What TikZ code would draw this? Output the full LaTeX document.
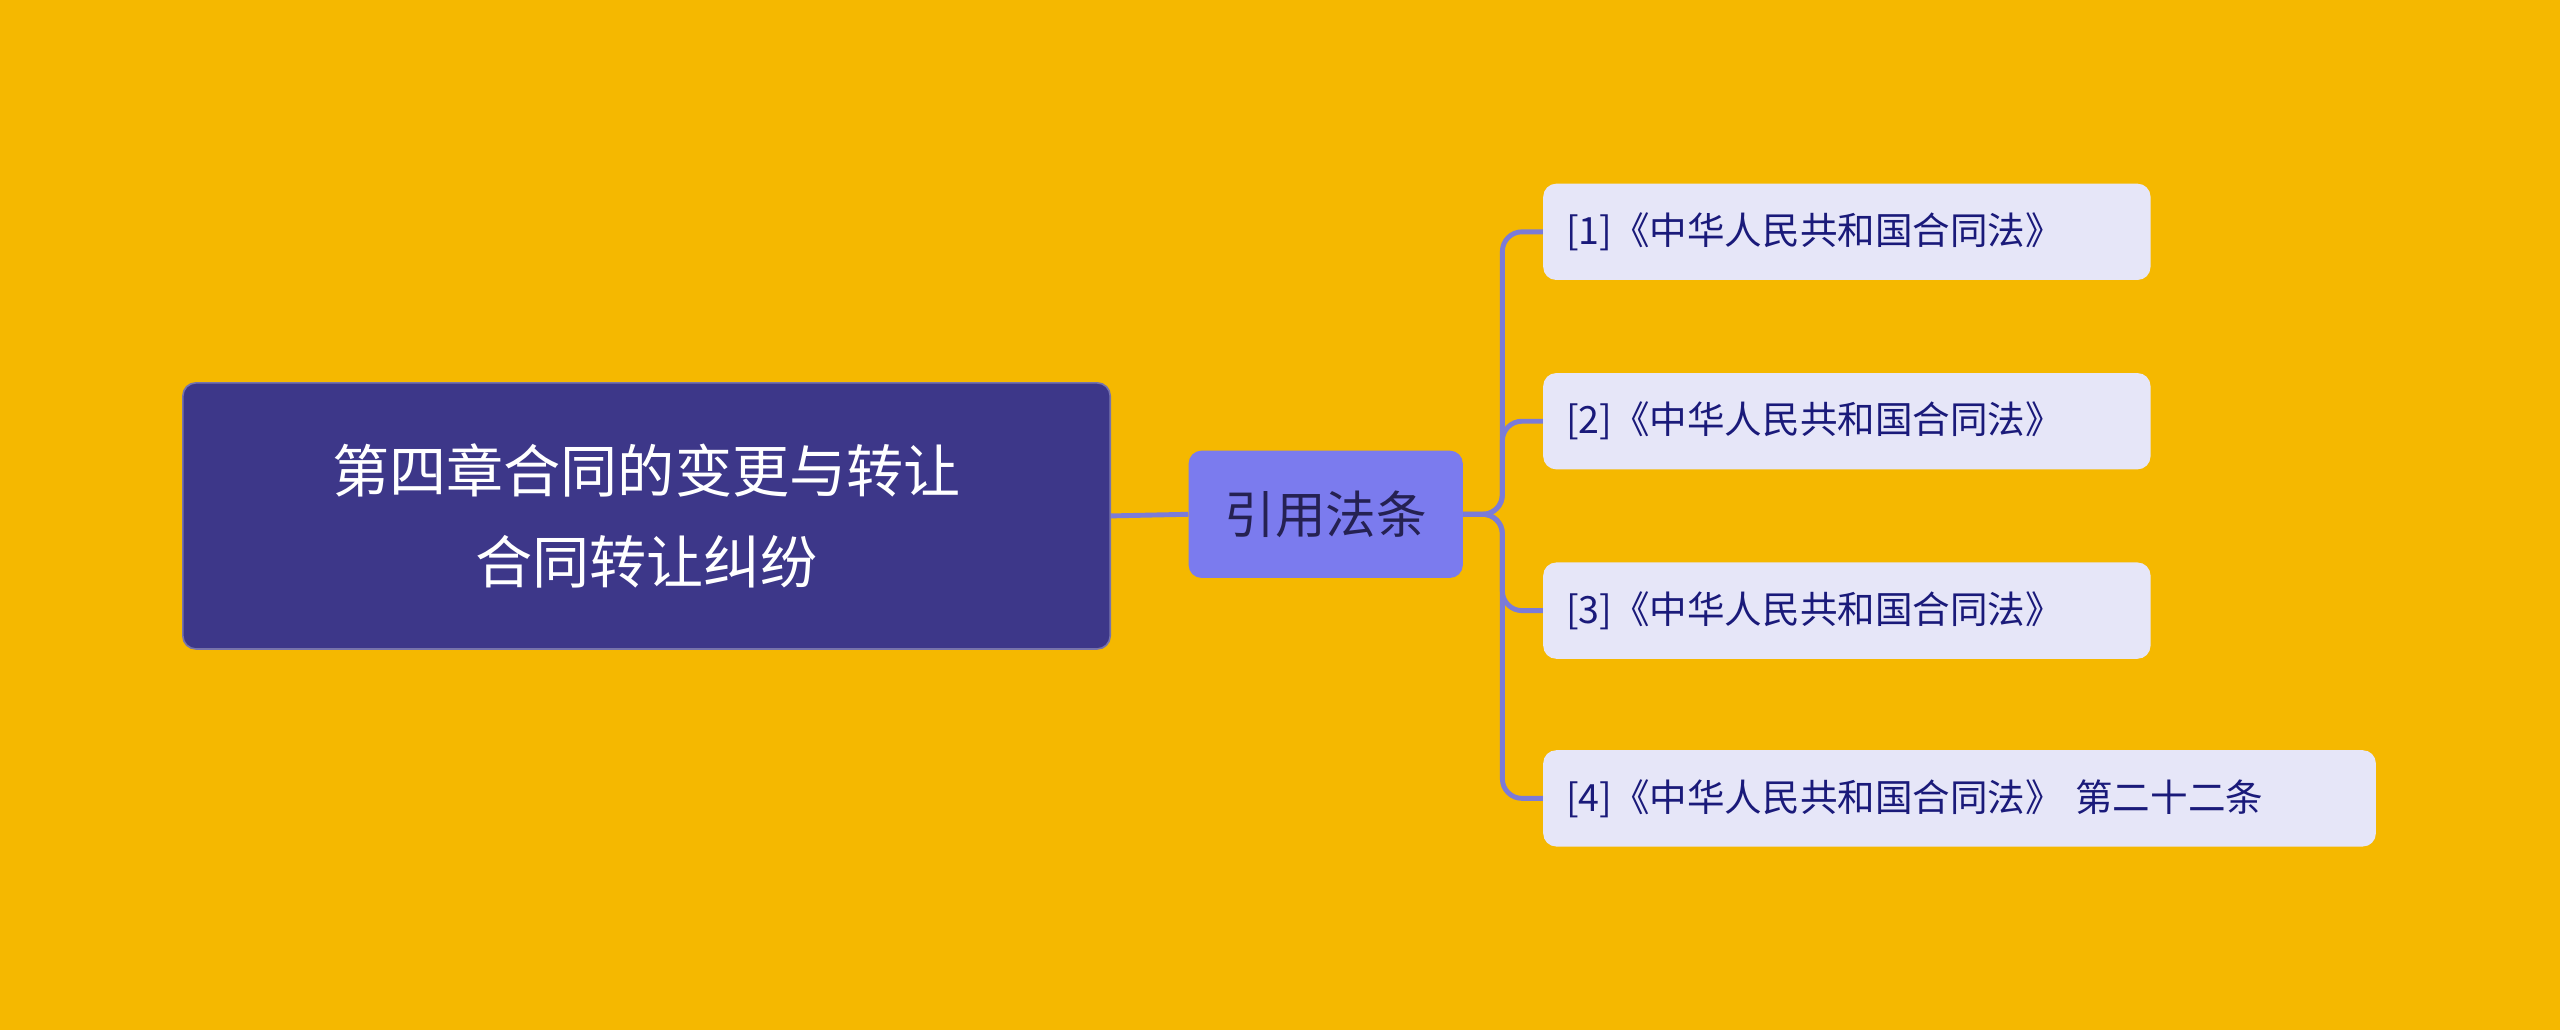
\documentclass[tikz,border=0pt]{standalone}
\usepackage{fontspec}
\setmainfont{Noto Sans CJK SC}
\begin{document}
\begin{tikzpicture}[x=1pt,y=-1pt,
  conn/.style={draw=lineC,line width=3pt,rounded corners=12pt},
  leaf/.style={fill=leafC,rounded corners=8pt,anchor=west,minimum height=59pt,inner xsep=14pt,align=left,text=leafT,font=\fontsize{23}{28}\selectfont}]
\definecolor{bgC}{HTML}{F5B800}
\definecolor{rootC}{HTML}{3D3789}
\definecolor{midC}{HTML}{7B7BEE}
\definecolor{leafC}{HTML}{E6E6F8}
\definecolor{leafT}{HTML}{1A1A7A}
\definecolor{lineC}{HTML}{7B7BD8}
\fill[bgC] (0,0) rectangle (1568,631);
\useasboundingbox (0,0) rectangle (1568,631);
\node[fill=rootC,draw=rootC!70!white,line width=1pt,rounded corners=8pt,minimum width=568pt,minimum height=163pt,text=white,align=center,font=\fontsize{35}{56}\selectfont] (root) at (396,316) {第四章合同的变更与转让\\合同转让纠纷};
\node[fill=midC,rounded corners=8pt,minimum width=168pt,minimum height=78pt,text=rootC!60!black,font=\fontsize{31}{36}\selectfont] (mid) at (812,315) {引用法条};
\node[leaf,text width=344pt] (l1) at (945,142) {[1]《中华人民共和国合同法》};
\node[leaf,text width=344pt] (l2) at (945,258) {[2]《中华人民共和国合同法》};
\node[leaf,text width=344pt] (l3) at (945,374) {[3]《中华人民共和国合同法》};
\node[leaf,text width=482pt] (l4) at (945,489) {[4]《中华人民共和国合同法》 第二十二条};
\draw[conn] (root.east) -- (mid.west);
\foreach \l in {l1,l2,l3,l4}{\draw[conn] (mid.east) -- ++(24,0) |- (\l.west);}
\end{tikzpicture}
\end{document}
